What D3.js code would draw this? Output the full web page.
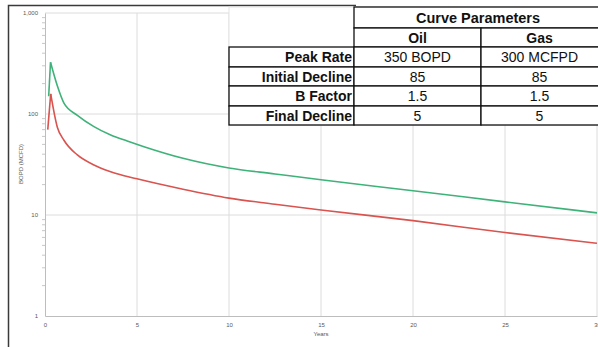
<!DOCTYPE html>
<html>
<head>
<meta charset="utf-8">
<script src="https://cdn.jsdelivr.net/npm/d3@7"></script>
<style>
  body { margin: 0; background: #fff; }
  svg { display: block; font-family: "Liberation Sans", Arial, sans-serif; }
</style>
</head>
<body>
<div id="chart"></div>
<script>
// Green curve (upper): years / rate
const greenYears = [0.2, 0.3, 0.67, 1.03, 1.76, 2.66, 3.57, 4.47, 5.38, 7.5, 10, 12.5, 15, 20, 25, 30];
const greenRates = [150, 325, 190, 128, 97, 75, 62, 54, 47.4, 36.4, 29.2, 25.5, 22.3, 17.4, 13.5, 10.5];

// Red curve (lower)
const redYears = [0.15, 0.31, 0.67, 1.03, 1.76, 2.66, 3.57, 5, 7.5, 10, 12.5, 15, 20, 25, 30];
const redRates = [70, 158, 74, 55, 39.3, 31.3, 26.8, 22.8, 18, 14.7, 12.8, 11.2, 8.8, 6.7, 5.25];

// Axis ticks
const xTicks = [0, 5, 10, 15, 20, 25, 30];
const yTicks = [1, 10, 100, 1000];

// Table contents
const tableTitle = "Curve Parameters";
const columnNames = ["Oil", "Gas"];
const paramNames = ["Peak Rate", "Initial Decline", "B Factor", "Final Decline"];
const oilParams = ["350 BOPD", "85", "1.5", "5"];
const gasParams = ["300 MCFPD", "85", "1.5", "5"];

const width = 598, height = 347;
const plot = {left: 45, right: 597, top: 13, bottom: 316};

const svg = d3.select("#chart")
    .append("svg")
    .attr("width", width)
    .attr("height", height);

// Scales
const xScale = d3.scaleLinear().domain([0, 30]).range([plot.left, plot.right]);
const yScale = d3.scaleLog().domain([1, 1000]).range([plot.bottom, plot.top]);

// Gridlines
svg.append("g")
    .selectAll("line")
    .data(xTicks.slice(1))
    .join("line")
    .attr("x1", d => xScale(d)).attr("x2", d => xScale(d))
    .attr("y1", plot.top).attr("y2", plot.bottom)
    .attr("stroke", "#dcdcdc");

svg.append("g")
    .selectAll("line")
    .data(yTicks.slice(1))
    .join("line")
    .attr("x1", plot.left).attr("x2", plot.right)
    .attr("y1", d => yScale(d)).attr("y2", d => yScale(d))
    .attr("stroke", "#dcdcdc");

// Axes
const xAxis = d3.axisBottom(xScale).tickValues(xTicks).tickSize(0).tickPadding(7);
const yAxis = d3.axisLeft(yScale).tickValues(yTicks).tickSize(0).tickPadding(7)
    .tickFormat(d3.format(","));

svg.append("g")
    .attr("transform", "translate(0," + plot.bottom + ")")
    .call(xAxis)
    .call(g => g.select(".domain").attr("stroke", "#bdbdbd"))
    .call(g => g.selectAll("text").attr("font-size", 6).attr("fill", "#595959"));

svg.append("g")
    .attr("transform", "translate(" + plot.left + ",0)")
    .call(yAxis)
    .call(g => g.select(".domain").attr("stroke", "#bdbdbd"))
    .call(g => g.selectAll("text").attr("font-size", 6).attr("fill", "#595959"));

// Minor ticks on the log axis
const minorTicks = [];
yTicks.slice(0, -1).forEach(d => { for (let k = 2; k < 10; k++) minorTicks.push(d * k); });
svg.append("g")
    .selectAll("line")
    .data(minorTicks)
    .join("line")
    .attr("x1", plot.left - 3).attr("x2", plot.left)
    .attr("y1", d => yScale(d)).attr("y2", d => yScale(d))
    .attr("stroke", "#c8c8c8");

// Axis titles
svg.append("text")
    .attr("x", (plot.left + plot.right) / 2)
    .attr("y", 336)
    .attr("text-anchor", "middle")
    .attr("font-size", 6)
    .attr("fill", "#595959")
    .text("Years");

svg.append("text")
    .attr("transform", "translate(23,164) rotate(-90)")
    .attr("text-anchor", "middle")
    .attr("font-size", 6)
    .attr("fill", "#595959")
    .text("BOPD (MCFD)");

// Curves: straight ramp up to the peak, smooth decline after it
const ramp = d3.line()
    .x(d => xScale(d[0]))
    .y(d => yScale(d[1]));
const decline = d3.line()
    .x(d => xScale(d[0]))
    .y(d => yScale(d[1]))
    .curve(d3.curveMonotoneX);

function drawCurve(years, rates, color) {
    const pts = d3.zip(years, rates);
    const peak = d3.maxIndex(rates);
    const g = svg.append("g")
        .attr("fill", "none")
        .attr("stroke", color)
        .attr("stroke-width", 1.6)
        .attr("stroke-linejoin", "round");
    g.append("path").attr("d", ramp(pts.slice(0, peak + 1)));
    g.append("path").attr("d", decline(pts.slice(peak)));
}

drawCurve(redYears, redRates, "#d9534f");
drawCurve(greenYears, greenRates, "#3fb27a");

// Outer frame
svg.append("path")
    .attr("d", "M8.5," + height + "V5.5H356")
    .attr("fill", "none")
    .attr("stroke", "#3a3a3a")
    .attr("stroke-width", 1.5);

// Parameter table
const colX = [229, 354, 481, 640];
const rowY = [7, 28, 47, 67, 86, 106, 125];
const table = svg.append("g").attr("font-size", 14).attr("fill", "#111");

table.append("rect")
    .attr("x", colX[0]).attr("y", rowY[0])
    .attr("width", width - colX[0]).attr("height", rowY[6] - rowY[0])
    .attr("fill", "#fff")
    .attr("stroke", "#e4e4e4");

// header cells
table.append("rect")
    .attr("x", colX[1]).attr("y", rowY[0])
    .attr("width", colX[3] - colX[1]).attr("height", rowY[1] - rowY[0])
    .attr("fill", "#fff").attr("stroke", "#111").attr("stroke-width", 1.3);

table.append("text")
    .attr("x", (colX[1] + width) / 2 + 2).attr("y", rowY[1] - 5)
    .attr("text-anchor", "middle")
    .attr("font-weight", "bold")
    .attr("font-size", 14.5)
    .text(tableTitle);

table.selectAll(".colhead")
    .data(columnNames)
    .join("g")
    .each(function(d, i) {
        const g = d3.select(this);
        g.append("rect")
            .attr("x", colX[i + 1]).attr("y", rowY[1])
            .attr("width", colX[i + 2] - colX[i + 1]).attr("height", rowY[2] - rowY[1])
            .attr("fill", "#fff").attr("stroke", "#111").attr("stroke-width", 1.3);
        g.append("text")
            .attr("x", i === 0 ? (colX[1] + colX[2]) / 2 : (colX[2] + width) / 2)
            .attr("y", rowY[2] - 4)
            .attr("text-anchor", "middle")
            .attr("font-weight", "bold")
            .text(d);
    });

// body rows
paramNames.forEach((name, r) => {
    const y0 = rowY[r + 2], y1 = rowY[r + 3];
    const cells = [name, oilParams[r], gasParams[r]];
    cells.forEach((val, c) => {
        table.append("rect")
            .attr("x", colX[c]).attr("y", y0)
            .attr("width", colX[c + 1] - colX[c]).attr("height", y1 - y0)
            .attr("fill", "#fff").attr("stroke", "#111").attr("stroke-width", 1.3);
        const cx = c === 0 ? colX[1] - 2 : c === 1 ? (colX[1] + colX[2]) / 2 : (colX[2] + width) / 2;
        table.append("text")
            .attr("x", cx)
            .attr("y", (y0 + y1) / 2 + 5)
            .attr("text-anchor", c === 0 ? "end" : "middle")
            .attr("font-weight", c === 0 ? "bold" : "normal")
            .text(val);
    });
});
</script>
</body>
</html>
